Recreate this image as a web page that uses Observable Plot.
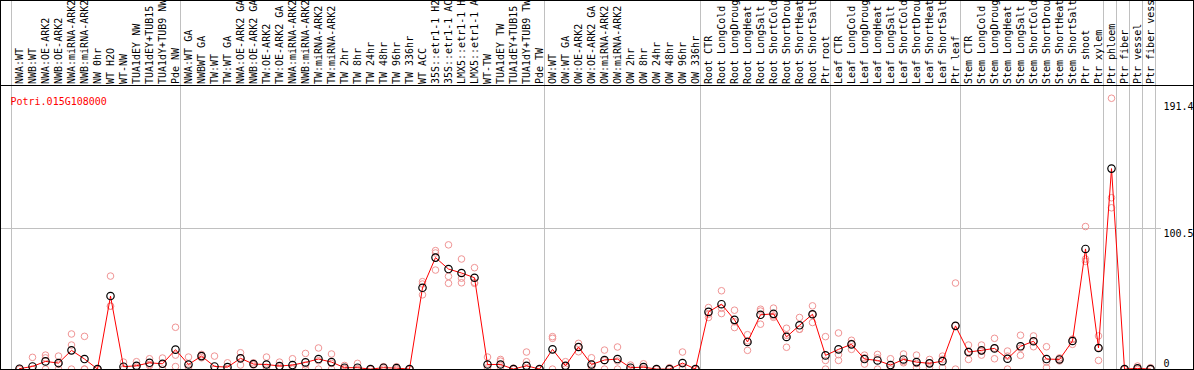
<!DOCTYPE html>
<html><head><meta charset="utf-8">
<script src="https://cdn.jsdelivr.net/npm/d3@7"></script>
<script src="https://cdn.jsdelivr.net/npm/@observablehq/plot@0.6"></script>
<style>
html,body{margin:0;padding:0;background:#fff;}
#chart{width:1192px;height:368px;border:1px solid #000;overflow:hidden;}
#labelsArea{height:84px;border-bottom:1px solid #000;overflow:hidden;}
#plotArea{height:283px;overflow:hidden;}
#chart svg{display:block;}
</style></head><body>
<div id="chart"><div id="labelsArea"></div><div id="plotArea"></div></div>
<script>
const title = "Potri.015G108000";
const labels = [
 "NWA:WT","NWB:WT","NWA:OE-ARK2","NWB:OE-ARK2","NWA:miRNA-ARK2","NWB:miRNA-ARK2","NW 0hr","WT H2O","WT-NW","TUA1dEY NW","TUA1dEY+TUB15 NW","TUA1dY+TUB9 NW","Pde NW",
 "NWA:WT GA","NWBWT GA","TW:WT","TW:WT GA","NWA:OE-ARK2 GA","NWB:OE-ARK2 GA","TW:OE-ARK2","TW:OE-ARK2 GA","NWA:miRNA-ARK2 GA","NWB:miRNA-ARK2 GA","TW:miRNA-ARK2","TW:miRNA-ARK2 GA",
 "TW 2hr","TW 8hr","TW 24hr","TW 48hr","TW 96hr","TW 336hr","WT ACC","35S::etr1-1 H2O","35S::etr1-1 ACC","LMX5::etr1-1 H2O","LMX5::etr1-1 ACC","WT-TW","TUA1dEY TW","TUA1dEY+TUB15 TW","TUA1dY+TUB9 TW","Pde TW",
 "OW:WT","OW:WT GA","OW:OE-ARK2","OW:OE-ARK2 GA","OW:miRNA-ARK2","OW:miRNA-ARK2 GA","OW 2hr","OW 8hr","OW 24hr","OW 48hr","OW 96hr","OW 336hr",
 "Root CTR","Root LongCold","Root LongDrought","Root LongHeat","Root LongSalt","Root ShortCold","Root ShortDrought","Root ShortHeat","Root ShortSalt","Ptr root",
 "Leaf CTR","Leaf LongCold","Leaf LongDrought","Leaf LongHeat","Leaf LongSalt","Leaf ShortCold","Leaf ShortDrought","Leaf ShortHeat","Leaf ShortSalt","Ptr leaf",
 "Stem CTR","Stem LongCold","Stem LongDrought","Stem LongHeat","Stem LongSalt","Stem ShortCold","Stem ShortDrought","Stem ShortHeat","Stem ShortSalt","Ptr shoot","Ptr xylem",
 "Ptr phloem","Ptr fiber","Ptr vessel","Ptr fiber vessel"
];
const groupSizes = [13, 28, 12, 10, 10, 11, 1, 1, 1, 1];
const means = [
 0.3,1.9,5.5,4.3,13.4,7.2,0,52.2,1.7,2.4,4.5,3.8,13.9,
 3.3,9.3,1.9,1.4,7.7,3.6,3.3,2.2,2.9,4.8,7.2,5.0,
 1.0,1.0,0,1.0,0.7,0,58.1,79.7,71.5,68.7,65.3,3.3,3.3,0,2.4,0,
 14.1,2.4,15.8,3.3,6.5,7.2,1.0,1.4,0,0,4.3,0,
 40.9,46.4,35.2,19.4,38.8,39.5,23.0,31.3,39.2,9.8,
 14.1,17.7,7.2,6.2,2.9,6.9,5.0,4.1,5.7,30.9,
 12.2,13.4,14.8,7.4,16.3,19.9,7.2,6.9,20.1,85.9,15.1,
 143.3,0,0.5,0
];
const reps = [
 [0,0,0.5],[8.4,0,0],[10,8,0],[9.3,3.5,0],[25.1,17.2,0],[23.4,0,0],[0,0,0],[66.5,45,45],[5,0,0],[5.3,1.5,0],[7.4,3.3,2.5],[7.9,3.5,0],[29.9,10,1.8],
 [8.6,1.4,0],[10.5,9.3,8.1],[9.3,0,0],[4.5,0,0],[11.7,8.1,2.9],[4.5,3.5,2.9],[8.6,1.3,0],[5,1.5,0],[7.4,1,0],[11.2,3,0],[15.1,6,0],[10.8,4,0],
 [2.6,0.5,0],[4.1,0,0],[0,0,0],[1.7,1,0],[1.7,0,0],[0,0,0],[62.5,60.8,53.1],[84.7,83,70.8],[88.8,66.3,61.3],[78.7,65,61.7],[72.5,62,61.3],[8.6,1,0],[6.9,5.7,0],[0.7,0,0],[12.2,5.3,0],[0,0,0],
 [23.2,22,0],[5.3,2,0],[18.4,16,12.4],[8.1,2,0],[13.6,6,0],[15.8,5.8,0],[2.9,0,0],[3.8,0.5,0],[0,0,0],[1,0,0],[12.2,0.7,0],[0,0,0],
 [44,39.2,36.9],[56,43.5,39.7],[42.1,33.8,29.7],[24.6,20.2,13.4],[42.8,41.5,32.1],[43.6,38,37],[29.2,24.2,15.6],[36.9,28.5,28.5],[45.2,39.1,33.3],[23.2,6.2,0],
 [25.8,10.3,6.2],[20.6,18.4,14.1],[10,8,3.6],[10.5,8,0],[7.4,1.3,0],[10.8,5.5,4.5],[10,4,1],[6.9,4.4,1],[9.3,7,1],[61.5,31,0],
 [17.2,12.5,6.9],[17.2,12.9,10],[22,15,7.4],[12.9,9.3,0],[24.2,15,9.8],[23.7,20,16],[16,5,1],[8,6.9,5.8],[21.3,21.3,17.7],[101.9,78.7,77],[23.7,15.4,6.2],
 [193.6,122.5,115.3],[0,0,0],[2.2,0,0],[1,0,0]
];
const tickValues = [191.4, 100.5, 0];
const gridValues = [100.5];

const n = labels.length;
const font = "'DejaVu Sans Mono', monospace";
const xScale = {type: "linear", domain: [0, n - 1], range: [18, 1149], axis: null};
const boundaries = [-0.5];
{ let acc = 0; for (const s of groupSizes) { acc += s; boundaries.push(acc - 0.5); } }
const meanRows = means.map((v, i) => ({i, v}));
const repRows = reps.flatMap((r, i) => r.map(v => ({i, v})));
const grid = "#c0c0c0";

const labelPlot = Plot.plot({
  width: 1192, height: 84, margin: 0,
  x: xScale,
  style: {fontFamily: font, fontSize: "10px", background: "white"},
  marks: [
    Plot.ruleX(boundaries, {x: d => d, dx: -1.5, stroke: grid}),
    Plot.text(labels, {x: (d, i) => i, frameAnchor: "bottom", dy: -1.5, rotate: -90, textAnchor: "start", lineAnchor: "middle", fill: "#000", fontFamily: font, fontSize: 10})
  ]
});
document.getElementById("labelsArea").appendChild(labelPlot);

const mainPlot = Plot.plot({
  width: 1192, height: 283, margin: 0,
  x: xScale,
  y: {domain: [0, 201], range: [282.6, 1.4], axis: null},
  style: {fontFamily: font, fontSize: "10px", background: "white"},
  marks: [
    Plot.ruleX(boundaries, {x: d => d, dx: -1.5, stroke: grid}),
    Plot.ruleY(gridValues, {y: d => d, stroke: grid, insetRight: 32}),
    Plot.dot(repRows, {x: "i", y: "v", r: 3.3, stroke: "#f09494", strokeWidth: 1, fill: "none"}),
    Plot.line(meanRows, {x: "i", y: "v", stroke: "#ff0000", strokeWidth: 1}),
    Plot.dot(meanRows, {x: "i", y: "v", r: 3.7, stroke: "#000", strokeWidth: 1.2, fill: "none"}),
    Plot.text([title], {frameAnchor: "top-left", dx: 9, dy: 11.5, text: d => d, fill: "#ff0000", textAnchor: "start", fontFamily: font, fontSize: 10}),
    Plot.text(tickValues.filter(v => v > 0), {y: d => d, text: d => String(d), frameAnchor: "right", dx: -30, dy: 1.5, textAnchor: "start", lineAnchor: "top", fill: "#000", fontFamily: font, fontSize: 10}),
    Plot.text(tickValues.filter(v => v === 0), {y: d => d, text: d => String(d), frameAnchor: "right", dx: -30, textAnchor: "start", lineAnchor: "bottom", dy: -2, fill: "#000", fontFamily: font, fontSize: 10})
  ]
});
document.getElementById("plotArea").appendChild(mainPlot);
</script>
</body></html>
